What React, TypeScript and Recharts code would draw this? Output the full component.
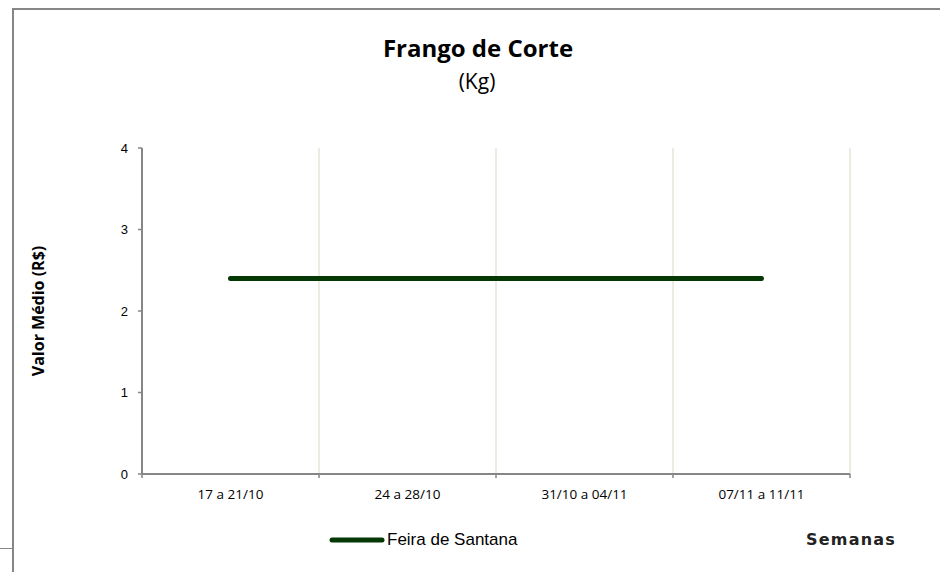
import React from "react";
import { LineChart, Line, XAxis, YAxis, CartesianGrid, Legend } from "recharts";

const weeks = ["17 a 21/10", "24 a 28/10", "31/10 a 04/11", "07/11 a 11/11"];
const feiraDeSantana = [2.4, 2.4, 2.4, 2.4];
const yTicks = [0, 1, 2, 3, 4];
const bandEdges = [0, 1, 2, 3, 4];
const bandCenters = [0.5, 1.5, 2.5, 3.5];
const seriesName = "Feira de Santana";

const data = weeks.map((w, i) => ({ pos: i + 0.5, week: w, value: feiraDeSantana[i] }));

const LINE_COLOR = "#053805";
const AXIS_COLOR = "#868686";

const renderLegend = () => (
  <div style={{ display: "flex", alignItems: "center", height: 22 }}>
    <svg width={56} height={10} style={{ display: "block" }}>
      <line x1={3} y1={5} x2={53} y2={5} stroke={LINE_COLOR} strokeWidth={5} strokeLinecap="round" />
    </svg>
    <span style={{ fontFamily: "'Liberation Sans', Arial, sans-serif", fontSize: 17, color: "#000", marginLeft: 2 }}>
      {seriesName}
    </span>
  </div>
);

const EmptyTick = () => <g />;

export default function App() {
  return (
    <div style={{ position: "absolute", left: 0, top: 0, width: 940, height: 572, background: "#fff", overflow: "hidden" }}>
      <div style={{ position: "absolute", left: 0, top: 0 }}>
        <LineChart width={940} height={572} data={data} margin={{ top: 148, right: 90, bottom: 64, left: 0 }}>
          <CartesianGrid
            xAxisId="grid"
            horizontal={false}
            vertical
            stroke="#EEECE1"
            strokeWidth={2}
          />
          <XAxis
            xAxisId="grid"
            type="number"
            dataKey="pos"
            domain={[0, 4]}
            ticks={bandEdges}
            interval={0}
            tick={EmptyTick}
            tickSize={4}
            height={4}
            axisLine={{ stroke: AXIS_COLOR, strokeWidth: 2 }}
            tickLine={{ stroke: AXIS_COLOR, strokeWidth: 1.5 }}
          />
          <XAxis
            xAxisId="main"
            type="number"
            dataKey="pos"
            domain={[0, 4]}
            ticks={bandCenters}
            tickFormatter={(v: number) => weeks[Math.floor(v)]}
            axisLine={false}
            tickLine={false}
            tickSize={0}
            tickMargin={11}
            height={30}
            interval={0}
            tick={{ fontFamily: "'Open Sans', sans-serif", fontSize: 13.5, fill: "#000" }}
          />
          <YAxis
            type="number"
            domain={[0, 4]}
            ticks={yTicks}
            width={142}
            tickSize={4}
            tickMargin={10}
            axisLine={{ stroke: AXIS_COLOR, strokeWidth: 2 }}
            tickLine={{ stroke: AXIS_COLOR, strokeWidth: 1.5 }}
            tick={{ fontFamily: "'Liberation Sans', Arial, sans-serif", fontSize: 13, fill: "#000" }}
          />
          <Legend
            layout="horizontal"
            verticalAlign="middle"
            align="center"
            content={renderLegend}
            wrapperStyle={{ top: 529, left: 329, width: 260, height: 22 }}
          />
          <Line
            xAxisId="main"
            type="linear"
            dataKey="value"
            name={seriesName}
            stroke={LINE_COLOR}
            strokeWidth={5}
            strokeLinecap="round"
            dot={false}
            activeDot={false}
            isAnimationActive={false}
          />
        </LineChart>
      </div>
      <svg width={940} height={572} style={{ position: "absolute", left: 0, top: 0, pointerEvents: "none" }}>
        <line x1={12} y1={9} x2={940} y2={9} stroke={AXIS_COLOR} strokeWidth={2} />
        <line x1={13} y1={8} x2={13} y2={572} stroke={AXIS_COLOR} strokeWidth={2} />
        <line x1={0} y1={548.5} x2={12} y2={548.5} stroke={AXIS_COLOR} strokeWidth={1} />
        <text x={478} y={57} textAnchor="middle" fontFamily="'Open Sans', sans-serif" fontWeight="bold" fontSize={24} fill="#000">
          Frango de Corte
        </text>
        <text x={477} y={89} textAnchor="middle" fontFamily="'Open Sans', sans-serif" fontSize={21} fill="#000">
          (Kg)
        </text>
        <text
          x={38}
          y={311}
          textAnchor="middle"
          dominantBaseline="central"
          transform="rotate(-90 38 311)"
          fontFamily="'Open Sans', sans-serif"
          fontWeight="bold"
          fontSize={16}
          fill="#000"
        >
          Valor Médio (R$)
        </text>
        <text
          x={851}
          y={539}
          textAnchor="middle"
          dominantBaseline="central"
          fontFamily="'DejaVu Sans', Verdana, sans-serif"
          fontWeight="bold"
          fontSize={16}
          letterSpacing={1.2}
          fill="#222"
        >
          Semanas
        </text>
      </svg>
    </div>
  );
}
